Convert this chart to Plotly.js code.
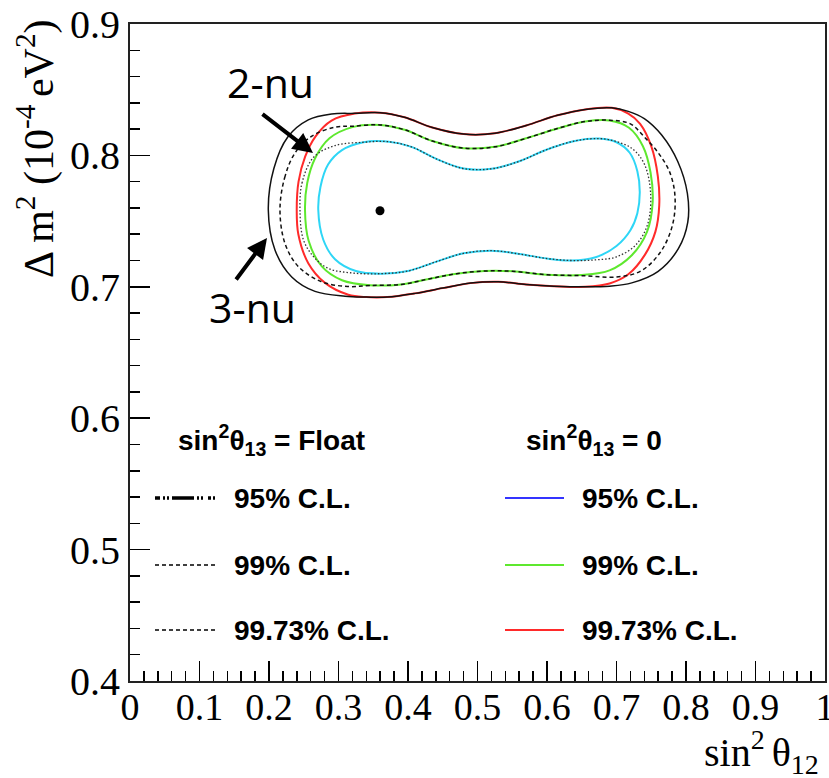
<!DOCTYPE html>
<html>
<head>
<meta charset="utf-8">
<script src="https://cdn.plot.ly/plotly-3.0.1.min.js"></script>
<style>
  html, body { margin: 0; padding: 0; background: #fff; }
  #plot { width: 829px; height: 778px; }
</style>
</head>
<body>
<div id="plot"></div>
<script>
// Allowed regions in the (sin^2 theta12, delta m^2) plane, traced clockwise from the leftmost point.

// sin^2 theta13 = 0 (2-flavour) contours
const nu2_cl95_x = [0.2709, 0.2740, 0.2850, 0.3050, 0.3360, 0.3700, 0.4050, 0.4400, 0.4800, 0.5200, 0.5600, 0.6000, 0.6400, 0.6750, 0.7000, 0.7190, 0.7300, 0.7335, 0.7300, 0.7200, 0.7000, 0.6700, 0.6350, 0.6000, 0.5600, 0.5200, 0.4800, 0.4400, 0.4000, 0.3600, 0.3250, 0.2950, 0.2780];
const nu2_cl95_y = [0.7584, 0.7760, 0.7930, 0.8040, 0.8100, 0.8105, 0.8065, 0.7975, 0.7900, 0.7898, 0.7955, 0.8045, 0.8110, 0.8128, 0.8100, 0.8020, 0.7880, 0.7720, 0.7560, 0.7430, 0.7310, 0.7225, 0.7200, 0.7215, 0.7250, 0.7275, 0.7255, 0.7190, 0.7120, 0.7100, 0.7120, 0.7210, 0.7360];

const nu2_cl99_x = [0.2518, 0.2550, 0.2660, 0.2870, 0.3200, 0.3600, 0.3950, 0.4350, 0.4800, 0.5250, 0.5700, 0.6150, 0.6550, 0.6900, 0.7180, 0.7380, 0.7490, 0.7520, 0.7440, 0.7220, 0.6900, 0.6500, 0.6000, 0.5500, 0.5100, 0.4700, 0.4300, 0.3900, 0.3450, 0.3050, 0.2760, 0.2570];
const nu2_cl99_y = [0.7584, 0.7790, 0.7975, 0.8130, 0.8215, 0.8232, 0.8195, 0.8110, 0.8055, 0.8065, 0.8130, 0.8205, 0.8258, 0.8265, 0.8210, 0.8070, 0.7870, 0.7640, 0.7420, 0.7240, 0.7125, 0.7090, 0.7092, 0.7118, 0.7120, 0.7100, 0.7060, 0.7018, 0.7012, 0.7050, 0.7155, 0.7350];

const nu2_cl9973_x = [0.2399, 0.2425, 0.2520, 0.2670, 0.2900, 0.3237, 0.3600, 0.3950, 0.4350, 0.4800, 0.5250, 0.5700, 0.6150, 0.6550, 0.6931, 0.7170, 0.7340, 0.7500, 0.7595, 0.7615, 0.7560, 0.7410, 0.7170, 0.6900, 0.6550, 0.6100, 0.5700, 0.5300, 0.4900, 0.4500, 0.4100, 0.3700, 0.3400, 0.3141, 0.2806, 0.2565, 0.2422];
const nu2_cl9973_y = [0.7584, 0.7800, 0.7990, 0.8145, 0.8265, 0.8318, 0.8325, 0.8290, 0.8212, 0.8162, 0.8168, 0.8228, 0.8305, 0.8350, 0.8362, 0.8318, 0.8240, 0.8070, 0.7840, 0.7620, 0.7420, 0.7245, 0.7095, 0.7025, 0.7000, 0.7005, 0.7018, 0.7038, 0.7028, 0.6990, 0.6950, 0.6922, 0.6922, 0.6940, 0.7030, 0.7180, 0.7400];

// sin^2 theta13 floating (3-flavour) contours
const nu3_cl95_x = [0.2446, 0.2475, 0.2640, 0.2950, 0.3360, 0.3700, 0.4050, 0.4400, 0.4800, 0.5200, 0.5600, 0.6000, 0.6400, 0.6750, 0.7000, 0.7230, 0.7400, 0.7490, 0.7450, 0.7280, 0.7000, 0.6700, 0.6350, 0.6000, 0.5600, 0.5200, 0.4800, 0.4400, 0.4000, 0.3600, 0.3200, 0.2853, 0.2640, 0.2494];
const nu3_cl95_y = [0.7584, 0.7790, 0.7985, 0.8075, 0.8100, 0.8105, 0.8065, 0.7975, 0.7900, 0.7898, 0.7955, 0.8045, 0.8110, 0.8128, 0.8105, 0.8050, 0.7935, 0.7720, 0.7480, 0.7320, 0.7228, 0.7205, 0.7200, 0.7215, 0.7250, 0.7275, 0.7255, 0.7190, 0.7120, 0.7100, 0.7105, 0.7140, 0.7230, 0.7360];

const nu3_cl99_x = [0.2158, 0.2225, 0.2370, 0.2610, 0.2950, 0.3200, 0.3600, 0.3950, 0.4350, 0.4800, 0.5250, 0.5700, 0.6150, 0.6550, 0.6900, 0.7200, 0.7400, 0.7600, 0.7760, 0.7840, 0.7810, 0.7640, 0.7350, 0.7000, 0.6500, 0.6000, 0.5500, 0.5100, 0.4700, 0.4300, 0.3900, 0.3450, 0.3130, 0.2750, 0.2420, 0.2230];
const nu3_cl99_y = [0.7584, 0.7830, 0.8015, 0.8145, 0.8215, 0.8222, 0.8232, 0.8195, 0.8110, 0.8055, 0.8065, 0.8130, 0.8205, 0.8258, 0.8268, 0.8240, 0.8140, 0.8020, 0.7880, 0.7700, 0.7480, 0.7270, 0.7120, 0.7075, 0.7085, 0.7092, 0.7118, 0.7120, 0.7100, 0.7060, 0.7018, 0.7010, 0.7002, 0.7040, 0.7155, 0.7330];

const nu3_cl9973_x = [0.1990, 0.2070, 0.2270, 0.2565, 0.2900, 0.3237, 0.3600, 0.3950, 0.4350, 0.4800, 0.5250, 0.5700, 0.6150, 0.6550, 0.6931, 0.7170, 0.7400, 0.7650, 0.7880, 0.8020, 0.8025, 0.7890, 0.7600, 0.7220, 0.6900, 0.6550, 0.6100, 0.5700, 0.5300, 0.4900, 0.4500, 0.4100, 0.3700, 0.3400, 0.3094, 0.2662, 0.2327, 0.2086];
const nu3_cl9973_y = [0.7584, 0.7900, 0.8140, 0.8270, 0.8315, 0.8320, 0.8325, 0.8290, 0.8212, 0.8162, 0.8168, 0.8228, 0.8305, 0.8350, 0.8362, 0.8335, 0.8280, 0.8155, 0.7955, 0.7710, 0.7490, 0.7290, 0.7118, 0.7030, 0.7005, 0.7000, 0.7005, 0.7018, 0.7038, 0.7028, 0.6990, 0.6950, 0.6922, 0.6922, 0.6928, 0.6965, 0.7075, 0.7280];

// best-fit point
const bestFit_x = [0.3597];
const bestFit_y = [0.7579];

// axis ticks
const xTickVals = [0, 0.1, 0.2, 0.3, 0.4, 0.5, 0.6, 0.7, 0.8, 0.9, 1];
const xTickText = ['0', '0.1', '0.2', '0.3', '0.4', '0.5', '0.6', '0.7', '0.8', '0.9', '1'];
const yTickVals = [0.4, 0.5, 0.6, 0.7, 0.8, 0.9];
const yTickText = ['0.4', '0.5', '0.6', '0.7', '0.8', '0.9'];

// legend text
const legendHeaders = ['<b>sin<sup>2</sup>θ<sub>13</sub> = Float</b>', '<b>sin<sup>2</sup>θ<sub>13</sub> = 0</b>'];
const clLabels = ['95% C.L.', '99% C.L.', '99.73% C.L.'];

// ---- drawing ----
const closed = a => a.concat([a[0]]);

function contour(xs, ys, color, width, dash) {
  return {
    type: 'scatter', mode: 'lines',
    x: closed(xs), y: closed(ys),
    line: { color: color, width: width, dash: dash, shape: 'spline', smoothing: 1 },
    hoverinfo: 'skip', showlegend: false
  };
}

const CYAN = '#2ed6f6', GREEN = '#5ee82e', RED = '#ff2a2a', BLUE = '#3434ff';
const DOTS = '1.5px,2px', DASHES = '4px,3px';

const traces = [
  contour(nu2_cl95_x, nu2_cl95_y, CYAN, 2, 'solid'),
  contour(nu2_cl99_x, nu2_cl99_y, GREEN, 2, 'solid'),
  contour(nu2_cl9973_x, nu2_cl9973_y, RED, 2, 'solid'),
  contour(nu3_cl95_x, nu3_cl95_y, '#333', 1.3, DOTS),
  contour(nu3_cl99_x, nu3_cl99_y, '#111', 1.5, DASHES),
  contour(nu3_cl9973_x, nu3_cl9973_y, '#111', 1.5, 'solid'),
  {
    type: 'scatter', mode: 'markers', x: bestFit_x, y: bestFit_y,
    marker: { color: '#000', size: 9 }, hoverinfo: 'skip', showlegend: false
  }
];

// pixel helpers for the legend block (plot area spans x 130..825, y 24..681)
const PX = p => (p - 130) / 695;
const PY = p => (681 - p) / 657;

const rowY = [498, 565, 630];
const sampleStyles = [
  { left: { color: '#000', width: 3.5, dash: '5px,3px,2px,2px,2px,3px,22px,3px,2px,2px,2px' }, right: { color: BLUE, width: 2, dash: 'solid' } },
  { left: { color: '#000', width: 1.5, dash: DASHES }, right: { color: GREEN, width: 2, dash: 'solid' } },
  { left: { color: '#000', width: 1.5, dash: DASHES }, right: { color: RED, width: 2, dash: 'solid' } }
];

const shapes = [];
const annotations = [];
const legFont = { family: 'Liberation Sans, Arial, sans-serif', size: 28, color: '#000' };

rowY.forEach((py, i) => {
  shapes.push({ type: 'line', xref: 'paper', yref: 'paper', x0: PX(155), x1: PX(215), y0: PY(py), y1: PY(py), line: sampleStyles[i].left });
  shapes.push({ type: 'line', xref: 'paper', yref: 'paper', x0: PX(505), x1: PX(564), y0: PY(py), y1: PY(py), line: sampleStyles[i].right });
  annotations.push({ xref: 'paper', yref: 'paper', x: PX(232), y: PY(py), xanchor: 'left', yanchor: 'middle', text: '<b>' + clLabels[i] + '</b>', showarrow: false, font: legFont });
  annotations.push({ xref: 'paper', yref: 'paper', x: PX(580), y: PY(py), xanchor: 'left', yanchor: 'middle', text: '<b>' + clLabels[i] + '</b>', showarrow: false, font: legFont });
});
annotations.push({ xref: 'paper', yref: 'paper', x: PX(176), y: PY(440), xanchor: 'left', yanchor: 'middle', text: legendHeaders[0], showarrow: false, font: legFont });
annotations.push({ xref: 'paper', yref: 'paper', x: PX(524), y: PY(440), xanchor: 'left', yanchor: 'middle', text: legendHeaders[1], showarrow: false, font: legFont });

// 2-nu / 3-nu labels with arrows
const labelFont = { family: 'Open Sans, Liberation Sans, sans-serif', size: 41, color: '#000' };
annotations.push({ xref: 'paper', yref: 'paper', x: PX(270), y: PY(82), text: '2-nu', showarrow: false, font: labelFont, xanchor: 'center', yanchor: 'middle' });
annotations.push({ xref: 'paper', yref: 'paper', x: PX(252), y: PY(307), text: '3-nu', showarrow: false, font: labelFont, xanchor: 'center', yanchor: 'middle' });
annotations.push({ xref: 'paper', yref: 'paper', x: PX(313), y: PY(153), text: '', showarrow: true, ax: -52, ay: -40, arrowhead: 2, arrowsize: 1, arrowwidth: 4, arrowcolor: '#000', standoff: 0 });
annotations.push({ xref: 'paper', yref: 'paper', x: PX(267), y: PY(238), text: '', showarrow: true, ax: -32, ay: 43, arrowhead: 2, arrowsize: 1, arrowwidth: 4, arrowcolor: '#000', standoff: 0 });

// axis titles
const serif = 'Liberation Serif, Times New Roman, serif';
annotations.push({ xref: 'paper', yref: 'paper', x: PX(36), y: PY(149), textangle: -90, xanchor: 'center', yanchor: 'middle',
  text: 'Δ m<sup>2</sup> (10<sup>-4 </sup>eV<sup>2</sup>)', showarrow: false, font: { family: serif, size: 42, color: '#000' } });
annotations.push({ xref: 'paper', yref: 'paper', x: PX(702), y: PY(752), xanchor: 'left', yanchor: 'middle',
  text: 'sin<sup>2 </sup>θ<sub>12</sub>', showarrow: false, font: { family: serif, size: 40, color: '#000' } });

const axisCommon = {
  showgrid: false, zeroline: false, showline: true, mirror: true,
  linecolor: '#222', linewidth: 2,
  ticks: 'inside', ticklen: 20, tickwidth: 1.5, tickcolor: '#000',
  ticklabeloverflow: 'allow',
  fixedrange: true
};

const layout = {
  width: 829, height: 778,
  margin: { l: 130, r: 4, t: 24, b: 97, pad: 0 },
  paper_bgcolor: '#fff', plot_bgcolor: '#fff',
  showlegend: false,
  xaxis: Object.assign({}, axisCommon, {
    range: [0, 1], tickmode: 'array', tickvals: xTickVals, ticktext: xTickText,
    tickfont: { family: serif, size: 38, color: '#000' },
    ticklabelstandoff: -9,
    minor: { ticks: 'inside', ticklen: 10, dtick: 0.02, tick0: 0, tickwidth: 1.5, tickcolor: '#000', showgrid: false }
  }),
  yaxis: Object.assign({}, axisCommon, {
    range: [0.4, 0.9], tickmode: 'array', tickvals: yTickVals, ticktext: yTickText,
    tickfont: { family: serif, size: 40, color: '#000' },
    minor: { ticks: 'inside', ticklen: 10, dtick: 0.02, tick0: 0.4, tickwidth: 1.5, tickcolor: '#000', showgrid: false }
  }),
  shapes: shapes,
  annotations: annotations
};

Plotly.newPlot('plot', traces, layout, { staticPlot: true, displayModeBar: false });
</script>
</body>
</html>
